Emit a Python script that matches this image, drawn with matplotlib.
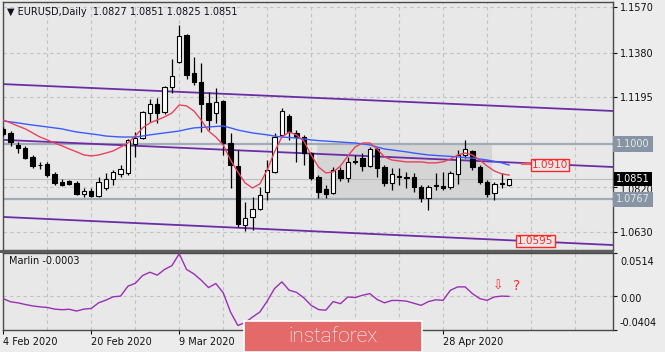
import matplotlib
matplotlib.use("Agg")
import matplotlib.pyplot as plt
import matplotlib.transforms as mtransforms
from matplotlib.patches import Rectangle
import pandas as pd

plt.rcParams['font.family'] = ['DejaVu Sans']

# ---------------- data ----------------
bar_dates = pd.bdate_range('2020-02-04', periods=70)

open_ = [1.1062, 1.1045, 1.0995, 1.0982, 1.0945, 1.0911, 1.0915, 1.0874, 1.0840, 1.0844,
         1.0836, 1.0790, 1.0803, 1.0782, 1.0815, 1.0853, 1.0874, 1.0878, 1.0999, 1.1024,
         1.1128, 1.1166, 1.1133, 1.1237, 1.1342, 1.1454, 1.1296, 1.1258, 1.1170, 1.1128,
         1.1179, 1.1003, 1.0907, 1.0660, 1.0694, 1.0727, 1.0798, 1.0882, 1.1037, 1.1116,
         1.1045, 1.1028, 1.0961, 1.0861, 1.0811, 1.0794, 1.0890, 1.0857, 1.0928, 1.0940,
         1.0907, 1.0978, 1.0903, 1.0836, 1.0861, 1.0857, 1.0861, 1.0819, 1.0773, 1.0823,
         1.0823, 1.0819, 1.0874, 1.0953, 1.0970, 1.0903, 1.0840, 1.0794, 1.0832, 1.0827]
high = [1.1070, 1.1053, 1.1007, 1.0991, 1.0953, 1.0924, 1.0924, 1.0882, 1.0853, 1.0849,
        1.0844, 1.0815, 1.0815, 1.0861, 1.0878, 1.0890, 1.0911, 1.1020, 1.1049, 1.1137,
        1.1187, 1.1191, 1.1241, 1.1354, 1.1496, 1.1458, 1.1362, 1.1337, 1.1216, 1.1233,
        1.1183, 1.1045, 1.0974, 1.0757, 1.0778, 1.0819, 1.0932, 1.1045, 1.1149, 1.1124,
        1.1057, 1.1037, 1.0966, 1.0869, 1.0828, 1.0903, 1.0903, 1.0945, 1.0953, 1.0961,
        1.0986, 1.0986, 1.0911, 1.0899, 1.0899, 1.0882, 1.0878, 1.0828, 1.0828, 1.0878,
        1.0882, 1.0886, 1.0974, 1.1016, 1.0974, 1.0911, 1.0849, 1.0840, 1.0878, 1.0851]
low = [1.1032, 1.0991, 1.0961, 1.0936, 1.0899, 1.0894, 1.0861, 1.0828, 1.0823, 1.0828,
       1.0786, 1.0778, 1.0778, 1.0778, 1.0807, 1.0828, 1.0861, 1.0869, 1.0945, 1.1020,
       1.1091, 1.1087, 1.1124, 1.1212, 1.1337, 1.1270, 1.1245, 1.1049, 1.1057, 1.1087,
       1.0953, 1.0815, 1.0652, 1.0635, 1.0640, 1.0723, 1.0765, 1.0878, 1.1028, 1.1016,
       1.0924, 1.0911, 1.0849, 1.0773, 1.0773, 1.0790, 1.0844, 1.0840, 1.0915, 1.0886,
       1.0903, 1.0861, 1.0823, 1.0807, 1.0828, 1.0815, 1.0798, 1.0757, 1.0723, 1.0807,
       1.0807, 1.0811, 1.0832, 1.0940, 1.0890, 1.0832, 1.0778, 1.0765, 1.0815, 1.0825]
close = [1.1041, 1.1007, 1.0982, 1.0940, 1.0907, 1.0913, 1.0869, 1.0836, 1.0828, 1.0832,
         1.0790, 1.0803, 1.0782, 1.0840, 1.0853, 1.0882, 1.0894, 1.1016, 1.1024, 1.1133,
         1.1166, 1.1128, 1.1237, 1.1283, 1.1450, 1.1287, 1.1258, 1.1166, 1.1099, 1.1174,
         1.1003, 1.0911, 1.0665, 1.0690, 1.0727, 1.0786, 1.0890, 1.1028, 1.1137, 1.1049,
         1.1028, 1.0961, 1.0857, 1.0798, 1.0790, 1.0890, 1.0857, 1.0924, 1.0924, 1.0907,
         1.0978, 1.0899, 1.0836, 1.0874, 1.0865, 1.0861, 1.0819, 1.0773, 1.0819, 1.0828,
         1.0815, 1.0878, 1.0953, 1.0978, 1.0903, 1.0840, 1.0790, 1.0832, 1.0836, 1.0851]

ma_red = [1.1099, 1.1087, 1.1074, 1.1062, 1.1045, 1.1028, 1.1016, 1.1003, 1.0991, 1.0978,
          1.0966, 1.0953, 1.0949, 1.0953, 1.0961, 1.0970, 1.0986, 1.1003, 1.1032, 1.1066,
          1.1087, 1.1099, 1.1112, 1.1128, 1.1162, 1.1158, 1.1137, 1.1099, 1.1053, 1.1028,
          1.0995, 1.0932, 1.0882, 1.0836, 1.0815, 1.0832, 1.0890, 1.0966, 1.1028, 1.1049,
          1.1037, 1.1011, 1.0953, 1.0903, 1.0878, 1.0882, 1.0907, 1.0949, 1.0986, 1.1003,
          1.1003, 1.0978, 1.0945, 1.0932, 1.0928, 1.0924, 1.0924, 1.0924, 1.0920, 1.0920,
          1.0924, 1.0936, 1.0953, 1.0961, 1.0953, 1.0932, 1.0907, 1.0886, 1.0874, 1.0869]
ma_blue = [1.1095, 1.1091, 1.1087, 1.1082, 1.1078, 1.1074, 1.1070, 1.1066, 1.1062, 1.1055,
           1.1049, 1.1045, 1.1041, 1.1037, 1.1032, 1.1030, 1.1028, 1.1028, 1.1028, 1.1032,
           1.1037, 1.1041, 1.1045, 1.1049, 1.1053, 1.1060, 1.1066, 1.1068, 1.1070, 1.1072,
           1.1074, 1.1066, 1.1057, 1.1051, 1.1045, 1.1041, 1.1037, 1.1032, 1.1028, 1.1026,
           1.1024, 1.1020, 1.1016, 1.1013, 1.1011, 1.1009, 1.1007, 1.1005, 1.1003, 1.0999,
           1.0995, 1.0986, 1.0978, 1.0974, 1.0970, 1.0966, 1.0961, 1.0957, 1.0953, 1.0951,
           1.0949, 1.0947, 1.0945, 1.0942, 1.0940, 1.0936, 1.0932, 1.0926, 1.0920, 1.0911]

marlin = [-0.0031, -0.0068, -0.0080, -0.0100, -0.0117, -0.0128, -0.0135, -0.0155, -0.0162, -0.0157,
          -0.0178, -0.0155, -0.0147, -0.0080, -0.0048, -0.0008, 0.0000, 0.0118, 0.0152, 0.0245,
          0.0285, 0.0250, 0.0318, 0.0363, 0.0505, 0.0318, 0.0265, 0.0190, 0.0102, 0.0150,
          0.0040, -0.0190, -0.0350, -0.0315, -0.0250, -0.0190, -0.0060, 0.0090, 0.0170, 0.0070,
          0.0045, -0.0020, -0.0110, -0.0160, -0.0168, -0.0065, -0.0090, -0.0010, -0.0017, 0.0010,
          0.0030, -0.0040, -0.0080, -0.0052, -0.0052, -0.0060, -0.0085, -0.0110, -0.0065, -0.0044,
          -0.0050, 0.0070, 0.0110, 0.0110, 0.0030, -0.0030, -0.0050, -0.0010, 0.0000, -0.0003]

price_ticks = [1.1570, 1.1380, 1.1195, 1.1000, 1.0820, 1.0630]
marlin_ticks = [0.0514, 0.0, -0.0404]
marlin_tick_labels = ['0.0514', '0.00', '-0.0404']
level_prices = [1.1000, 1.0767]
last_price = 1.0851
title_ohlc = [1.0827, 1.0851, 1.0825, 1.0851]
marlin_now = -0.0003

# channel lines: price at bar 0 and bar 83
channel_upper = [1.1249, 1.1137]
channel_mid = [1.1016, 1.0903]
channel_low = [1.0694, 1.0577]
channel_bars = [0, 83]

# consolidation box (bar span, price span)
box_bars = [42.8, 66.7]
box_prices = [1.0767, 1.1000]

# red price labels on the channel lines
tag_values = ['1.0910', '1.0595']
tag_bars = [74.6, 72.6]
tag_prices = [1.0911, 1.0594]

# date labels visible (others lie under the logo)
date_label_bars = [0, 12, 24, 60]

# ---------------- style ----------------
W, H = 665, 352
FIG_BG = '#ececec'
AX_BG = '#e8e8e8'
GRID = '#c2c2c2'
TXT = '#111111'

fig = plt.figure(figsize=(W / 100, H / 100), dpi=100, facecolor=FIG_BG)


def fx(px):
    return px / W


def fy(py):
    return 1 - py / H


ax = fig.add_axes([fx(3), fy(250), (613 - 3) / W, (250 - 2) / H], facecolor=AX_BG)
ax2 = fig.add_axes([fx(3), fy(330), (613 - 3) / W, (330 - 253) / H], facecolor=AX_BG)

n = len(open_)
idx = list(range(n))
xlim = (-0.04, 83.18)

for a in (ax, ax2):
    a.set_xlim(*xlim)
    for s in a.spines.values():
        s.set_color('#4a4a4a')
        s.set_linewidth(1.0)
    for b in range(0, 84, 6):
        a.axvline(b, color=GRID, lw=0.8, ls=(0, (3, 3)), zorder=0.6)

# ---- main panel ----
ax.set_ylim(1.0556, 1.1592)
for v in price_ticks:
    ax.axhline(v, color=GRID, lw=0.8, ls=(0, (3, 3)), zorder=0.6)

ax.add_patch(Rectangle((box_bars[0], box_prices[0]), box_bars[1] - box_bars[0],
                       box_prices[1] - box_prices[0], fc='#d5d5d5', ec='none', zorder=0.7))

for v in level_prices:
    ax.axhline(v, color='#a2acb7', lw=1.6, zorder=1)
ax.axhline(last_price, color='#bdbdbd', lw=0.8, zorder=1)

for p0, p1 in (channel_upper, channel_mid, channel_low):
    ax.axline((channel_bars[0], p0), (channel_bars[1], p1), color='#6c2ca6', lw=1.3, zorder=2)

# candles
body_lo = [min(o, c) for o, c in zip(open_, close)]
body_h = [max(abs(c - o), 0.00002) for o, c in zip(open_, close)]
colors = ['white' if c >= o else 'black' for o, c in zip(open_, close)]
ax.vlines(idx, low, high, color='black', lw=0.9, zorder=3)
ax.bar(idx, body_h, bottom=body_lo, width=0.58, color=colors, edgecolor='black',
       linewidth=0.8, zorder=3.5)

ax.plot(idx, ma_blue, color='#3b5bff', lw=1.0, zorder=4)
ax.plot(idx, ma_red, color='#e8425e', lw=1.0, zorder=4.1)

# red tags
ax.plot([tag_bars[0] - 3.8, tag_bars[0] - 2.4], [tag_prices[0] + 0.0004] * 2, color='#ff5a5a', lw=1.5, zorder=5)
for t, b, p in zip(tag_values, tag_bars, tag_prices):
    ax.text(b, p, t, color='#ff2626', fontsize=7.5, ha='center', va='center', zorder=6,
            bbox=dict(boxstyle='square,pad=0.12', fc=AX_BG, ec='#ff2626', lw=1.0))

ax.set_xticks([])
ax.yaxis.tick_right()
ax.set_yticks(price_ticks)
# price levels with their own label boxes replace the plain tick label
ax.set_yticklabels(['' if v in level_prices else f'{v:.4f}' for v in price_ticks])
ax.tick_params(axis='y', length=3, pad=2, labelsize=7, colors=TXT, width=0.8)
for lab, v in zip(ax.get_yticklabels(), price_ticks):
    if abs(v - 1.0820) < 1e-9:
        lab.set_transform(lab.get_transform() + mtransforms.ScaledTranslation(0, -2 / 100, fig.dpi_scale_trans))

trans = mtransforms.blended_transform_factory(ax.transAxes, ax.transData)
for v in level_prices:
    ax.text(1 + 3 / 610, v, f'{v:.4f}', transform=trans, ha='left', va='center', fontsize=7,
            color='#e4e8ec', clip_on=False, zorder=7,
            bbox=dict(boxstyle='square,pad=0.3', fc='#8794a3', ec='none'))
ax.text(1 + 3 / 610, last_price, f'{last_price:.4f}', transform=trans, ha='left', va='center',
        fontsize=7, color='white', clip_on=False, zorder=8,
        bbox=dict(boxstyle='square,pad=0.2', fc='black', ec='none'))

title = '\u25bc EURUSD,Daily  ' + ' '.join(f'{v:.4f}' for v in title_ohlc)
ax.text(4 / 610, 1 - 10 / 248, title, transform=ax.transAxes, ha='left', va='center',
        fontsize=7, color='#101020', zorder=9)

# ---- indicator panel ----
ax2.set_ylim(-0.0404, 0.0514)
ax2.axhline(0.0, color=GRID, lw=0.8, ls=(0, (3, 3)), zorder=0.6)
ax2.plot(idx, marlin, color='#9a2fb5', lw=1.0, zorder=3)
ax2.yaxis.tick_right()
ax2.set_yticks(marlin_ticks)
ax2.set_yticklabels(marlin_tick_labels)
ax2.tick_params(axis='y', length=3, pad=2, labelsize=7, colors=TXT, width=0.8)
shifts = [-8, -1.5, 8]
for lab, s in zip(ax2.get_yticklabels(), shifts):
    lab.set_transform(lab.get_transform() + mtransforms.ScaledTranslation(0, s / 100, fig.dpi_scale_trans))

ax2.set_xticks(date_label_bars)
ax2.set_xticklabels([f'{bar_dates[i].day} {bar_dates[i].strftime("%b %Y")}' for i in date_label_bars])
ax2.tick_params(axis='x', length=3, pad=2, labelsize=7, colors=TXT, width=0.8)
for lab in ax2.get_xticklabels():
    lab.set_horizontalalignment('left')

ax2.text(6 / 610, 1 - 8 / 77, f'Marlin {marlin_now:.4f}', transform=ax2.transAxes, ha='left',
         va='center', fontsize=7, color=TXT, zorder=5)
ax2.text(67.5, 0.0125, '\u21e9', color='#ff3030', fontsize=9, ha='center', va='center', zorder=5)
ax2.text(70.1, 0.0125, '?', color='#ff3030', fontsize=10, ha='center', va='center', zorder=5)

# separator between panels
fig.patches.append(Rectangle((0, fy(252.5)), fx(614), 2.5 / H, transform=fig.transFigure,
                             fc='#5c5c5c', ec='none', zorder=5))

# logo
fig.patches.append(Rectangle((fx(244), 0), (422 - 244) / W, (352 - 321) / H, transform=fig.transFigure,
                             fc='#e46a6a', ec='white', lw=1.2, zorder=10))
fig.text(fx(333), fy(337), 'instaforex', color='white', fontsize=15, ha='center', va='center',
         family='Roboto', weight='light', zorder=11)

fig.savefig('out.png', dpi=100, facecolor=FIG_BG)
